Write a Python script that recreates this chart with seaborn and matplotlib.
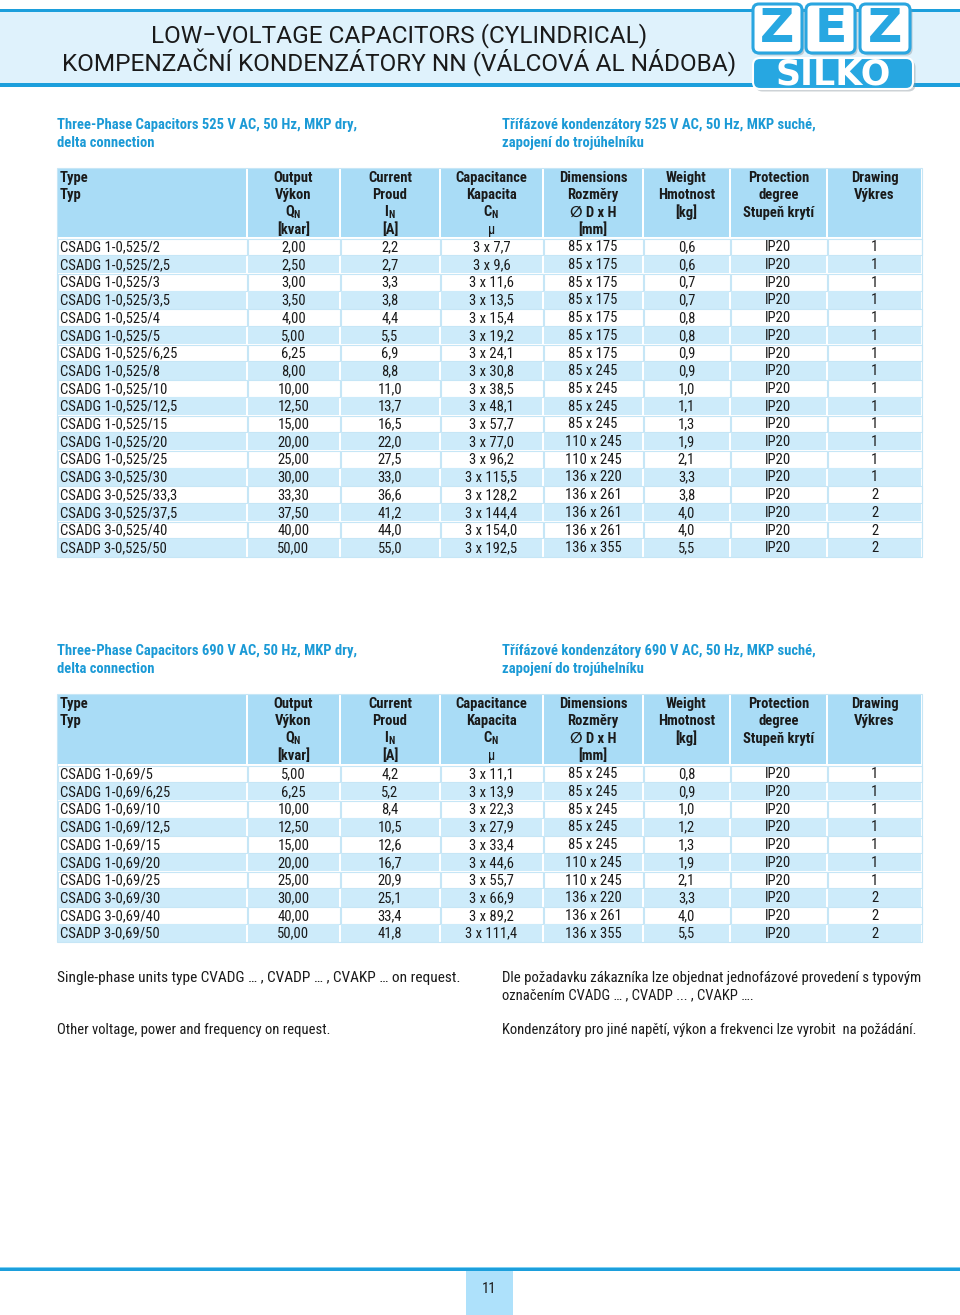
import matplotlib
matplotlib.use("Agg")
import matplotlib.pyplot as plt
import seaborn as sns
from matplotlib.patches import Rectangle, FancyBboxPatch

# ---------------- data ----------------
header_lines = [
    ["Type", "Typ"],
    ["Output", "Výkon", "$\\mathregular{Q_N}$", "[kvar]"],
    ["Current", "Proud", "$\\mathregular{I_N}$", "[A]"],
    ["Capacitance", "Kapacita", "$\\mathregular{C_N}$", "μ"],
    ["Dimensions", "Rozměry", "∅ D x H", "[mm]"],
    ["Weight", "Hmotnost", "[kg]"],
    ["Protection", "degree", "Stupeň krytí"],
    ["Drawing", "Výkres"],
]

t1_type = ["CSADG 1-0,525/2", "CSADG 1-0,525/2,5", "CSADG 1-0,525/3", "CSADG 1-0,525/3,5",
           "CSADG 1-0,525/4", "CSADG 1-0,525/5", "CSADG 1-0,525/6,25", "CSADG 1-0,525/8",
           "CSADG 1-0,525/10", "CSADG 1-0,525/12,5", "CSADG 1-0,525/15", "CSADG 1-0,525/20",
           "CSADG 1-0,525/25", "CSADG 3-0,525/30", "CSADG 3-0,525/33,3", "CSADG 3-0,525/37,5",
           "CSADG 3-0,525/40", "CSADP 3-0,525/50"]
t1_output = ["2,00", "2,50", "3,00", "3,50", "4,00", "5,00", "6,25", "8,00", "10,00", "12,50",
             "15,00", "20,00", "25,00", "30,00", "33,30", "37,50", "40,00", "50,00"]
t1_current = ["2,2", "2,7", "3,3", "3,8", "4,4", "5,5", "6,9", "8,8", "11,0", "13,7",
              "16,5", "22,0", "27,5", "33,0", "36,6", "41,2", "44,0", "55,0"]
t1_cap = ["3 x 7,7", "3 x 9,6", "3 x 11,6", "3 x 13,5", "3 x 15,4", "3 x 19,2", "3 x 24,1",
          "3 x 30,8", "3 x 38,5", "3 x 48,1", "3 x 57,7", "3 x 77,0", "3 x 96,2", "3 x 115,5",
          "3 x 128,2", "3 x 144,4", "3 x 154,0", "3 x 192,5"]
t1_dim = ["85 x 175"] * 7 + ["85 x 245"] * 4 + ["110 x 245"] * 2 + ["136 x 220"] + \
         ["136 x 261"] * 3 + ["136 x 355"]
t1_weight = ["0,6", "0,6", "0,7", "0,7", "0,8", "0,8", "0,9", "0,9", "1,0", "1,1", "1,3",
             "1,9", "2,1", "3,3", "3,8", "4,0", "4,0", "5,5"]
t1_prot = ["IP20"] * 18
t1_draw = ["1"] * 14 + ["2"] * 4

t2_type = ["CSADG 1-0,69/5", "CSADG 1-0,69/6,25", "CSADG 1-0,69/10", "CSADG 1-0,69/12,5",
           "CSADG 1-0,69/15", "CSADG 1-0,69/20", "CSADG 1-0,69/25", "CSADG 3-0,69/30",
           "CSADG 3-0,69/40", "CSADP 3-0,69/50"]
t2_output = ["5,00", "6,25", "10,00", "12,50", "15,00", "20,00", "25,00", "30,00", "40,00", "50,00"]
t2_current = ["4,2", "5,2", "8,4", "10,5", "12,6", "16,7", "20,9", "25,1", "33,4", "41,8"]
t2_cap = ["3 x 11,1", "3 x 13,9", "3 x 22,3", "3 x 27,9", "3 x 33,4", "3 x 44,6", "3 x 55,7",
          "3 x 66,9", "3 x 89,2", "3 x 111,4"]
t2_dim = ["85 x 245"] * 5 + ["110 x 245"] * 2 + ["136 x 220", "136 x 261", "136 x 355"]
t2_weight = ["0,8", "0,9", "1,0", "1,2", "1,3", "1,9", "2,1", "3,3", "4,0", "5,5"]
t2_prot = ["IP20"] * 10
t2_draw = ["1"] * 7 + ["2"] * 3

title_lines = ["LOW−VOLTAGE CAPACITORS (CYLINDRICAL)",
               "KOMPENZAČNÍ KONDENZÁTORY NN (VÁLCOVÁ AL NÁDOBA)"]
sec1_en = ["Three-Phase Capacitors 525 V AC, 50 Hz, MKP dry,", "delta connection"]
sec1_cz = ["Třífázové kondenzátory 525 V AC, 50 Hz, MKP suché,", "zapojení do trojúhelníku"]
sec2_en = ["Three-Phase Capacitors 690 V AC, 50 Hz, MKP dry,", "delta connection"]
sec2_cz = ["Třífázové kondenzátory 690 V AC, 50 Hz, MKP suché,", "zapojení do trojúhelníku"]
note1_en = ["Single-phase units type CVADG … , CVADP … , CVAKP … on request."]
note1_cz = ["Dle požadavku zákazníka lze objednat jednofázové provedení s typovým",
            "označením CVADG … , CVADP ... , CVAKP …."]
note2_en = ["Other voltage, power and frequency on request."]
note2_cz = ["Kondenzátory pro jiné napětí, výkon a frekvenci lze vyrobit  na požádání."]
page_no = "11"

# ---------------- style ----------------
sns.set_theme(style="white")
FAM = ["Roboto Condensed", "DejaVu Sans Condensed", "DejaVu Sans"]
plt.rcParams["font.family"] = FAM
plt.rcParams["mathtext.default"] = "regular"
plt.rcParams["mathtext.fontset"] = "custom"
plt.rcParams["mathtext.rm"] = "Roboto Condensed:bold"
plt.rcParams["mathtext.bf"] = "Roboto Condensed:bold"

BLUE = "#1c9fdc"
BAND = "#dff2fc"
HEAD = "#a9dcf6"
ROWB = "#cdebfa"
EDGE = "#c6e6f6"
TXT = "#1a1a1a"
HEADTXT = "#1b9ad6"

fig = plt.figure(figsize=(9.6, 13.15), dpi=100)
ax = fig.add_axes([0, 0, 1, 1])
ax.set_xlim(0, 960)
ax.set_ylim(1315, 0)
ax.axis("off")
renderer = fig.canvas.get_renderer()


def fit(t, target_w):
    w = t.get_window_extent(renderer=renderer).width
    t.set_fontsize(t.get_fontsize() * target_w / w)


# ---------------- title band ----------------
ax.add_patch(Rectangle((0, 11), 960, 74, facecolor=BAND, edgecolor="none"))
ax.add_patch(Rectangle((0, 9), 960, 3, facecolor=BLUE, edgecolor="none"))
ax.add_patch(Rectangle((0, 83), 960, 3.5, facecolor=BLUE, edgecolor="none"))
TFAM = ["Roboto", "DejaVu Sans"]
tt1 = ax.text(399, 35.5, title_lines[0], ha="center", va="center", fontsize=16, family=TFAM, color=TXT)
tt2 = ax.text(399.5, 62.5, title_lines[1], ha="center", va="center", fontsize=16, family=TFAM, color=TXT)
fit(tt1, 498)
fit(tt2, 675)

# logo
for x0, x1 in ((753, 802), (806, 855), (860, 910)):
    w = x1 - x0
    ax.add_patch(FancyBboxPatch((x0 + 2.5, 6.5), w, 49, boxstyle="round,pad=0,rounding_size=6",
                                facecolor="#8d9aa2", edgecolor="none", alpha=0.45, zorder=3))
    ax.add_patch(FancyBboxPatch((x0, 4), w, 49, boxstyle="round,pad=0,rounding_size=6",
                                facecolor="white", edgecolor="#2aa6e0", linewidth=2.2, zorder=4))
    ax.text((x0 + x1) / 2, 29.5, "ZEZ"[[753, 806, 860].index(x0)], ha="center", va="center",
            fontsize=34, weight="bold", family=["DejaVu Sans"], color="#27a7e1", zorder=5)
ax.add_patch(FancyBboxPatch((755.5, 60.5), 160, 31, boxstyle="round,pad=0,rounding_size=7",
                            facecolor="#8d9aa2", edgecolor="none", alpha=0.45, zorder=3))
ax.add_patch(FancyBboxPatch((753, 58), 160, 31, boxstyle="round,pad=0,rounding_size=7",
                            facecolor="#27a7e1", edgecolor="white", linewidth=1.5, zorder=4))
ax.text(833, 74, "SILKO", ha="center", va="center", fontsize=25, weight="bold",
        family=["DejaVu Sans"], color="white", zorder=5)

# ---------------- tables ----------------
COLS = [57, 247, 340, 440, 543, 643, 730, 827, 922]
ROW_H = 17.7
FS = 10.5


def section(y, en, cz):
    for i, s in enumerate(en):
        ax.text(57, y + i * 17.5, s, ha="left", va="center", fontsize=FS, weight="bold", color=HEADTXT)
    for i, s in enumerate(cz):
        ax.text(502, y + i * 17.5, s, ha="left", va="center", fontsize=FS, weight="bold", color=HEADTXT)


def table(top, head_h, cols):
    nrows = len(cols[0])
    for j in range(8):
        x0, x1 = COLS[j], COLS[j + 1]
        ax.add_patch(Rectangle((x0 + 1, top), x1 - x0 - 2, head_h - 1, facecolor=HEAD, edgecolor="none"))
        for k, s in enumerate(header_lines[j]):
            yy = top + 9.5 + k * 17.5
            if j == 0:
                ax.text(x0 + 3, yy, s, ha="left", va="center", fontsize=FS, weight="bold", color=TXT)
            else:
                ax.text((x0 + x1) / 2, yy, s, ha="center", va="center", fontsize=FS,
                        weight="bold" if s != "μ" else "normal", color=TXT)
    y = top + head_h
    for i in range(nrows):
        for j in range(8):
            x0, x1 = COLS[j], COLS[j + 1]
            if i % 2 == 1:
                ax.add_patch(Rectangle((x0 + 1, y), x1 - x0 - 2, ROW_H, facecolor=ROWB, edgecolor="none"))
            else:
                ax.add_patch(Rectangle((x0 + 0.5, y + 0.5), x1 - x0 - 1, ROW_H - 1, facecolor="white",
                                       edgecolor=EDGE, linewidth=0.8))
            s = cols[j][i]
            if j == 0:
                ax.text(x0 + 3, y + ROW_H / 2 + 0.5, s, ha="left", va="center", fontsize=FS, color=TXT)
            else:
                ax.text((x0 + x1) / 2, y + ROW_H / 2 + 0.5, s, ha="center", va="center", fontsize=FS, color=TXT)
        y += ROW_H
    ax.add_patch(Rectangle((COLS[0], top), COLS[-1] - COLS[0], y - top, facecolor="none",
                           edgecolor=EDGE, linewidth=0.8))


section(125, sec1_en, sec1_cz)
table(168, 70, [t1_type, t1_output, t1_current, t1_cap, t1_dim, t1_weight, t1_prot, t1_draw])
section(651, sec2_en, sec2_cz)
table(694, 71, [t2_type, t2_output, t2_current, t2_cap, t2_dim, t2_weight, t2_prot, t2_draw])

# ---------------- notes ----------------
n1 = ax.text(57, 978, note1_en[0], ha="left", va="center", fontsize=FS, color=TXT)
fit(n1, 407)
c1 = ax.text(502, 978, note1_cz[0], ha="left", va="center", fontsize=FS, color=TXT)
fit(c1, 419)
ax.text(502, 995.5, note1_cz[1], ha="left", va="center", fontsize=FS, color=TXT)
for i, s in enumerate(note2_en):
    ax.text(57, 1030 + i * 17.5, s, ha="left", va="center", fontsize=FS, color=TXT)
for i, s in enumerate(note2_cz):
    ax.text(502, 1030 + i * 17.5, s, ha="left", va="center", fontsize=FS, color=TXT)

# ---------------- footer ----------------
ax.add_patch(Rectangle((0, 1266.5), 960, 2, facecolor="#7fd0f3", edgecolor="none"))
ax.add_patch(Rectangle((0, 1268), 960, 3, facecolor=BLUE, edgecolor="none"))
ax.add_patch(Rectangle((466, 1271), 47, 44, facecolor="#aee1fb", edgecolor="none"))
ax.text(489.5, 1289, page_no, ha="center", va="center", fontsize=FS, color=TXT)

fig.savefig("out.png", dpi=100, facecolor="white")
